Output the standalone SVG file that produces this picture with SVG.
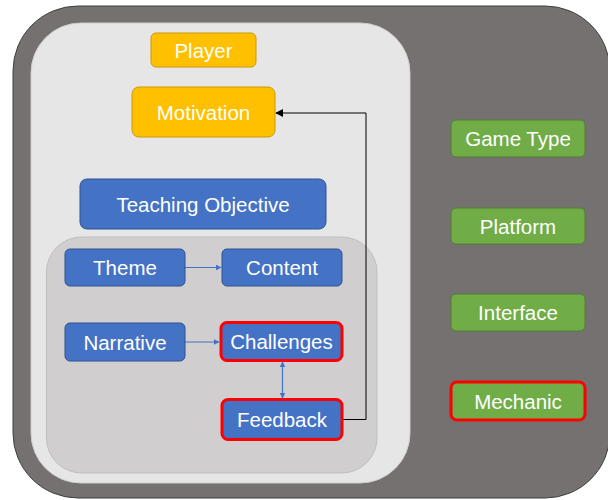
<svg xmlns="http://www.w3.org/2000/svg" width="608" height="500" viewBox="0 0 608 500">
  <defs>
    <style>
      .lbl { font-family: "Liberation Sans", Arial, sans-serif; font-size: 20.5px; fill: #ffffff; text-anchor: middle; }
      .orange { fill: #ffc000; stroke: #c99a06; stroke-width: 1; }
      .blue { fill: #4472c4; stroke: #2f528f; stroke-width: 1; }
      .green { fill: #70ad47; stroke: #507e32; stroke-width: 1; }
      .hl { stroke: #ff0000; stroke-width: 3; }
      .link { fill: none; stroke: #4472c4; stroke-width: 1.2; }
      .back { fill: none; stroke: #000000; stroke-width: 1; }
    </style>
    <marker id="arrBlue" viewBox="0 0 10 10" refX="9" refY="5" markerWidth="6" markerHeight="6" orient="auto-start-reverse" markerUnits="userSpaceOnUse">
      <path d="M0,0 L10,5 L0,10 Z" fill="#4472c4"/>
    </marker>
    <marker id="arrBlack" viewBox="0 0 10 10" refX="9" refY="5" markerWidth="8" markerHeight="8" orient="auto" markerUnits="userSpaceOnUse">
      <path d="M0,0 L10,5 L0,10 Z" fill="#000000"/>
    </marker>
  </defs>

  <!-- outer container -->
  <rect x="13" y="6" width="597" height="492" rx="65" fill="#767171" stroke="#3f3f3f" stroke-width="1"/>
  <!-- light panel -->
  <rect x="31" y="23" width="379" height="460" rx="50" fill="#e7e6e6" stroke="#d0cece" stroke-width="1"/>
  <!-- inner grey panel -->
  <rect x="46.5" y="237" width="330.5" height="236" rx="35" fill="#d0cece" stroke="#bfbfbf" stroke-width="1"/>

  <!-- connectors -->
  <g id="connectors">
    <line class="link" x1="185" y1="267.5" x2="221" y2="267.5" marker-end="url(#arrBlue)"/>
    <line class="link" x1="185" y1="342" x2="219" y2="342" marker-end="url(#arrBlue)"/>
    <line class="link" x1="282.5" y1="362" x2="282.5" y2="398" marker-start="url(#arrBlue)" marker-end="url(#arrBlue)"/>
    <polyline class="back" points="343,419.5 366,419.5 366,113 276,113" marker-end="url(#arrBlack)"/>
  </g>

  <g id="player">
    <rect class="orange" x="151" y="33" width="105" height="34" rx="5"/>
    <text class="lbl" x="203.5" y="57.5">Player</text>
  </g>
  <g id="motivation">
    <rect class="orange" x="132" y="87" width="143" height="50" rx="7"/>
    <text class="lbl" x="203.5" y="119.5">Motivation</text>
  </g>
  <g id="teaching-objective">
    <rect class="blue" x="80" y="179" width="246" height="50" rx="7"/>
    <text class="lbl" x="203" y="211.5">Teaching Objective</text>
  </g>

  <g id="theme">
    <rect class="blue" x="65" y="249" width="120" height="37" rx="5"/>
    <text class="lbl" x="125" y="274.5">Theme</text>
  </g>
  <g id="content">
    <rect class="blue" x="222" y="249" width="120" height="37" rx="5"/>
    <text class="lbl" x="282" y="274.5">Content</text>
  </g>
  <g id="narrative">
    <rect class="blue" x="65" y="323" width="120" height="38" rx="5"/>
    <text class="lbl" x="125" y="349.5">Narrative</text>
  </g>
  <g id="challenges">
    <rect class="blue hl" x="221" y="322.5" width="121" height="38" rx="6"/>
    <text class="lbl" x="281.5" y="349">Challenges</text>
  </g>
  <g id="feedback">
    <rect class="blue hl" x="222" y="399.5" width="120" height="40" rx="6"/>
    <text class="lbl" x="282" y="427">Feedback</text>
  </g>

  <g id="game-type">
    <rect class="green" x="451" y="120" width="134" height="37" rx="5"/>
    <text class="lbl" x="518" y="146">Game Type</text>
  </g>
  <g id="platform">
    <rect class="green" x="451" y="208" width="134" height="36" rx="5"/>
    <text class="lbl" x="518" y="233.5">Platform</text>
  </g>
  <g id="interface">
    <rect class="green" x="451" y="294" width="134" height="37" rx="5"/>
    <text class="lbl" x="518" y="320">Interface</text>
  </g>
  <g id="mechanic">
    <rect class="green hl" x="451" y="382" width="134" height="38" rx="6"/>
    <text class="lbl" x="518" y="408.5">Mechanic</text>
  </g>
</svg>
